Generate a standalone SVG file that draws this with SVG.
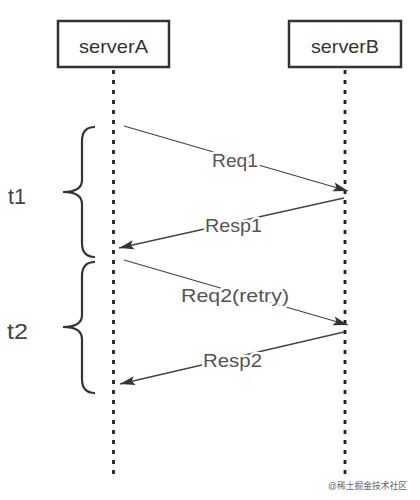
<svg xmlns="http://www.w3.org/2000/svg" width="420" height="500" viewBox="0 0 420 500">
<defs>
<marker id="ah" markerWidth="15" markerHeight="10" refX="15" refY="5" orient="auto" markerUnits="userSpaceOnUse">
<path d="M0,0.5 L15,5 L0,9.5 L3,5 Z" fill="#333"/>
</marker>
</defs>
<style>
.box{fill:#fff;stroke:#333;stroke-width:2.5}
.name{font-family:"Liberation Sans",Arial,sans-serif;font-size:19px;fill:#333;text-anchor:middle}
.life{stroke:#222;stroke-width:2.8;stroke-dasharray:4,6;fill:none}
.msg{stroke:#444;stroke-width:1.3;fill:none;marker-end:url(#ah)}
.lbl{font-family:"Liberation Sans",Arial,sans-serif;font-size:19px;fill:#555;text-anchor:middle;stroke:#fff;stroke-width:5;paint-order:stroke;stroke-linejoin:round}
.brace{stroke:#333;stroke-width:2.2;fill:none}
.t{font-family:"Liberation Sans",Arial,sans-serif;font-size:22px;fill:#444}
.wm{font-family:"Liberation Sans","Noto Sans CJK SC",sans-serif;font-size:9px;fill:#666}
</style>
<rect width="420" height="500" fill="#fff"/>
<g id="lifelines">
<line class="life" x1="113.5" y1="70" x2="113.5" y2="479"/>
<line class="life" x1="345" y1="70" x2="345" y2="479"/>
</g>
<g id="serverA">
<rect class="box" x="58" y="21" width="111" height="46"/>
<text class="name" x="113.5" y="53" textLength="69" lengthAdjust="spacingAndGlyphs">serverA</text>
</g>
<g id="serverB">
<rect class="box" x="289" y="21" width="112" height="46"/>
<text class="name" x="345" y="53" textLength="68" lengthAdjust="spacingAndGlyphs">serverB</text>
</g>
<g id="connectors">
<line class="msg" x1="124" y1="126" x2="348" y2="191"/>
<line class="msg" x1="344" y1="198" x2="119" y2="248"/>
<line class="msg" x1="124" y1="260" x2="348" y2="325"/>
<line class="msg" x1="344" y1="332" x2="120" y2="384"/>
</g>
<g id="labels">
<text class="lbl" x="235" y="167" textLength="46" lengthAdjust="spacingAndGlyphs">Req1</text>
<text class="lbl" x="233.5" y="232" textLength="57" lengthAdjust="spacingAndGlyphs">Resp1</text>
<text class="lbl" x="235" y="302" textLength="108" lengthAdjust="spacingAndGlyphs">Req2(retry)</text>
<text class="lbl" x="232.5" y="367" textLength="59" lengthAdjust="spacingAndGlyphs">Resp2</text>
</g>
<g id="brace1">
<path class="brace" d="M95,127 Q82,127 82,141 L82,180 Q82,192 63,192 Q82,192 82,204 L82,243 Q82,257 95,257"/>
<text class="t" x="8" y="204" textLength="18" lengthAdjust="spacingAndGlyphs">t1</text>
</g>
<g id="brace2">
<path class="brace" d="M95,262 Q82,262 82,276 L82,315 Q82,327 63,327 Q82,327 82,339 L82,379 Q82,393 95,393"/>
<text class="t" x="7" y="339" textLength="21" lengthAdjust="spacingAndGlyphs">t2</text>
</g>
<text class="wm" x="328" y="489" textLength="79" lengthAdjust="spacingAndGlyphs">@稀土掘金技术社区</text>
</svg>
